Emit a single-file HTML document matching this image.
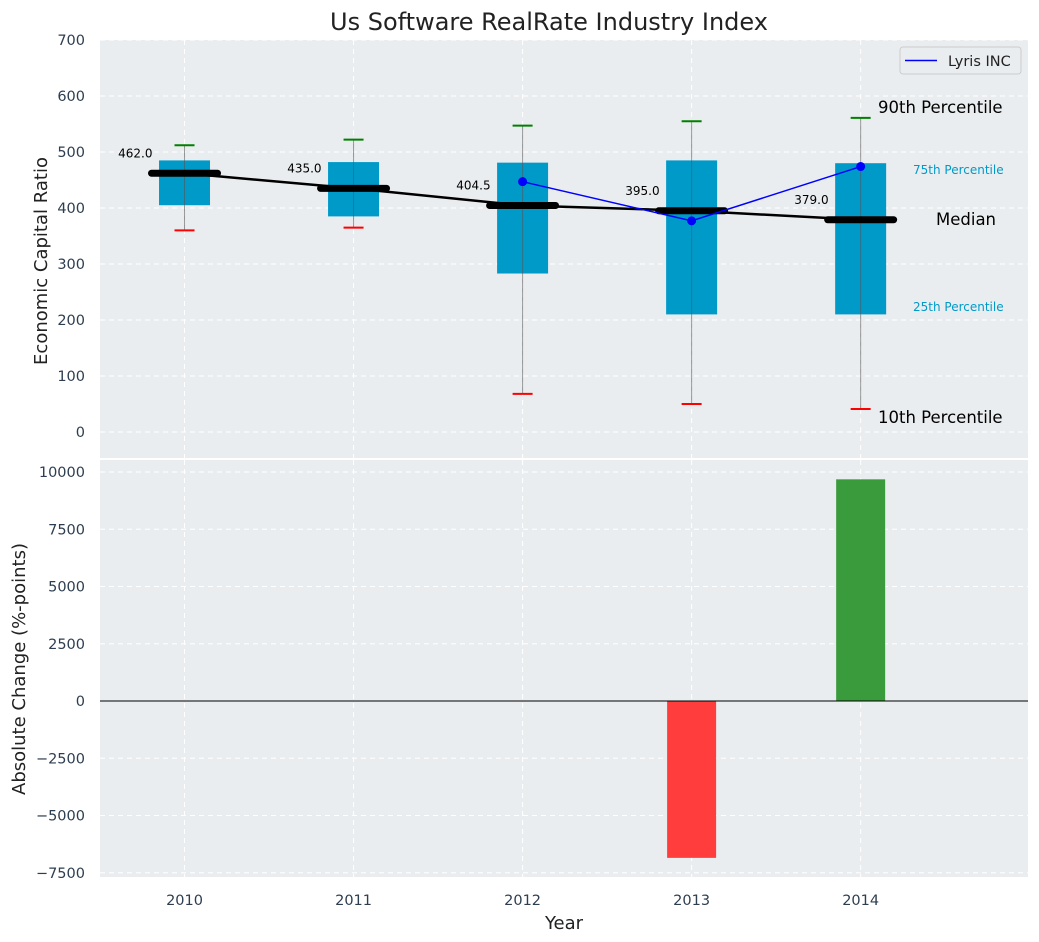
<!DOCTYPE html>
<html><head><meta charset="utf-8"><style>
body{margin:0;background:#fff;}
svg{display:block;font-family:"DejaVu Sans","Liberation Sans",sans-serif;}
</style></head><body>
<svg id="chart" width="1039" height="942" xmlns="http://www.w3.org/2000/svg"></svg>
<script>
const years = [2010, 2011, 2012, 2013, 2014];
const q1 = [405, 385, 283, 210, 210];
const q3 = [485, 482, 481, 485, 480];
const medians = [462.0, 435.0, 404.5, 395.0, 379.0];
const p10 = [360, 365, 68, 50, 41];
const p90 = [512, 522, 547, 555, 561];
const lyrisYears = [2012, 2013, 2014];
const lyrisValues = [447, 377, 474];
const changeYears = [2013, 2014];
const changeValues = [-6850, 9680];
const topTicks = [0, 100, 200, 300, 400, 500, 600, 700];
const bottomTicks = [-7500, -5000, -2500, 0, 2500, 5000, 7500, 10000];

const NS = "http://www.w3.org/2000/svg";
const svg = document.getElementById('chart');
function el(tag, attrs, parent) {
  const e = document.createElementNS(NS, tag);
  for (const k in attrs) e.setAttribute(k, attrs[k]);
  (parent || svg).appendChild(e);
  return e;
}
const L = 100, R = 1028;
const X = v => L + (v - 2009.5) / (2014.99 - 2009.5) * (R - L);
const T0 = 40, T1 = 458;
const YT = v => 432 - v * 0.56;
const B0 = 460, B1 = 877;
const YB = v => 701 - v * (229 / 10000);
const TS = 14.5;

let e;
e = el('rect', {x: L, y: T0, width: R - L, height: T1 - T0, fill: '#eaedef'});
 
e = el('rect', {x: L, y: B0, width: R - L, height: B1 - B0, fill: '#eaedef'});
 

topTicks.forEach(t => {
  el('line', {x1: L, x2: R, y1: YT(t), y2: YT(t), stroke: '#fff', 'stroke-dasharray': '5,4', 'stroke-width': 1});
  e = el('text', {x: 85, y: YT(t) + 5, 'text-anchor': 'end', 'font-size': TS, fill: '#2d3e50'});
  e.textContent = t;
   
});
bottomTicks.forEach(t => {
  el('line', {x1: L, x2: R, y1: YB(t), y2: YB(t), stroke: '#fff', 'stroke-dasharray': '5,4', 'stroke-width': 1});
  e = el('text', {x: 85, y: YB(t) + 5, 'text-anchor': 'end', 'font-size': TS, fill: '#2d3e50'});
  e.textContent = t.toString().replace('-', '−');
   
});
years.forEach(y => {
  el('line', {x1: X(y), x2: X(y), y1: T0, y2: T1, stroke: '#fff', 'stroke-dasharray': '5,4'});
  el('line', {x1: X(y), x2: X(y), y1: B0, y2: B1, stroke: '#fff', 'stroke-dasharray': '5,4'});
  e = el('text', {x: X(y), y: 905, 'text-anchor': 'middle', 'font-size': TS, fill: '#2d3e50'});
  e.textContent = y;
   
});

years.forEach((y, i) => {
  const cx = X(y);
  e = el('rect', {x: cx - 25.5, y: YT(q3[i]), width: 51, height: YT(q1[i]) - YT(q3[i]), fill: '#009ac9'});
   
  el('line', {x1: cx, x2: cx, y1: YT(p10[i]), y2: YT(p90[i]), stroke: '#555', 'stroke-opacity': 0.6, 'stroke-width': 1});
  e = el('line', {x1: cx - 10, x2: cx + 10, y1: YT(p90[i]), y2: YT(p90[i]), stroke: 'green', 'stroke-width': 2});
   
  e = el('line', {x1: cx - 10, x2: cx + 10, y1: YT(p10[i]), y2: YT(p10[i]), stroke: 'red', 'stroke-width': 2});
   
});
e = el('polyline', {points: years.map((y, i) => X(y) + ',' + YT(medians[i])).join(' '), fill: 'none', stroke: '#000', 'stroke-width': 2.5});
 
years.forEach((y, i) => {
  const cx = X(y);
  e = el('line', {x1: cx - 33, x2: cx + 33, y1: YT(medians[i]), y2: YT(medians[i]), stroke: '#000', 'stroke-width': 7, 'stroke-linecap': 'round'});
   
  e = el('text', {x: cx - 32, y: YT(medians[i]) - 16, 'text-anchor': 'end', 'font-size': 12, fill: '#000'});
  e.textContent = medians[i].toFixed(1);
   
});
e = el('polyline', {points: lyrisYears.map((y, i) => X(y) + ',' + YT(lyrisValues[i])).join(' '), fill: 'none', stroke: 'blue', 'stroke-width': 1.5});
 
lyrisYears.forEach((y, i) => {
  e = el('circle', {cx: X(y), cy: YT(lyrisValues[i]), r: 4.5, fill: 'blue'});
   
});
const ann = [[878, 113, '90th Percentile', 16.5, '#000'], [913, 174, '75th Percentile', 12, '#009ac9'], [936, 225, 'Median', 16.5, '#000'], [913, 311, '25th Percentile', 12, '#009ac9'], [878, 423, '10th Percentile', 16.5, '#000']];
ann.forEach(a => {
  e = el('text', {x: a[0], y: a[1], 'font-size': a[3], fill: a[4]});
  e.textContent = a[2];
   
});
const lg = el('g', {});
 
el('rect', {x: 900, y: 47, width: 121, height: 27, rx: 3, fill: '#eaedef', stroke: '#ccc'}, lg);
el('line', {x1: 905, x2: 937, y1: 60.5, y2: 60.5, stroke: 'blue', 'stroke-width': 1.5}, lg);
e = el('text', {x: 948, y: 66, 'font-size': 14.5, fill: '#222'}, lg);
e.textContent = 'Lyris INC';

changeYears.forEach((y, i) => {
  const v = changeValues[i];
  e = el('rect', {x: X(y) - 24.5, y: Math.min(YB(v), YB(0)), width: 49, height: Math.abs(YB(v) - YB(0)), fill: v < 0 ? '#ff3d3d' : '#3a9b3c'});
   
});
e = el('line', {x1: L, x2: R, y1: YB(0), y2: YB(0), stroke: '#000', 'stroke-width': 1});
 

e = el('text', {x: 549, y: 30, 'text-anchor': 'middle', 'font-size': 24, fill: '#222'});
e.textContent = 'Us Software RealRate Industry Index';
 
e = el('text', {x: 0, y: 0, 'text-anchor': 'middle', 'font-size': 18, fill: '#222', transform: 'translate(47,261) rotate(-90)'});
e.textContent = 'Economic Capital Ratio';
 
e = el('text', {x: 0, y: 0, 'text-anchor': 'middle', 'font-size': 18, fill: '#222', transform: 'translate(25,669) rotate(-90)'});
e.textContent = 'Absolute Change (%-points)';
 
e = el('text', {x: 564, y: 929, 'text-anchor': 'middle', 'font-size': 18, fill: '#222'});
e.textContent = 'Year';
 
</script>
</body></html>
